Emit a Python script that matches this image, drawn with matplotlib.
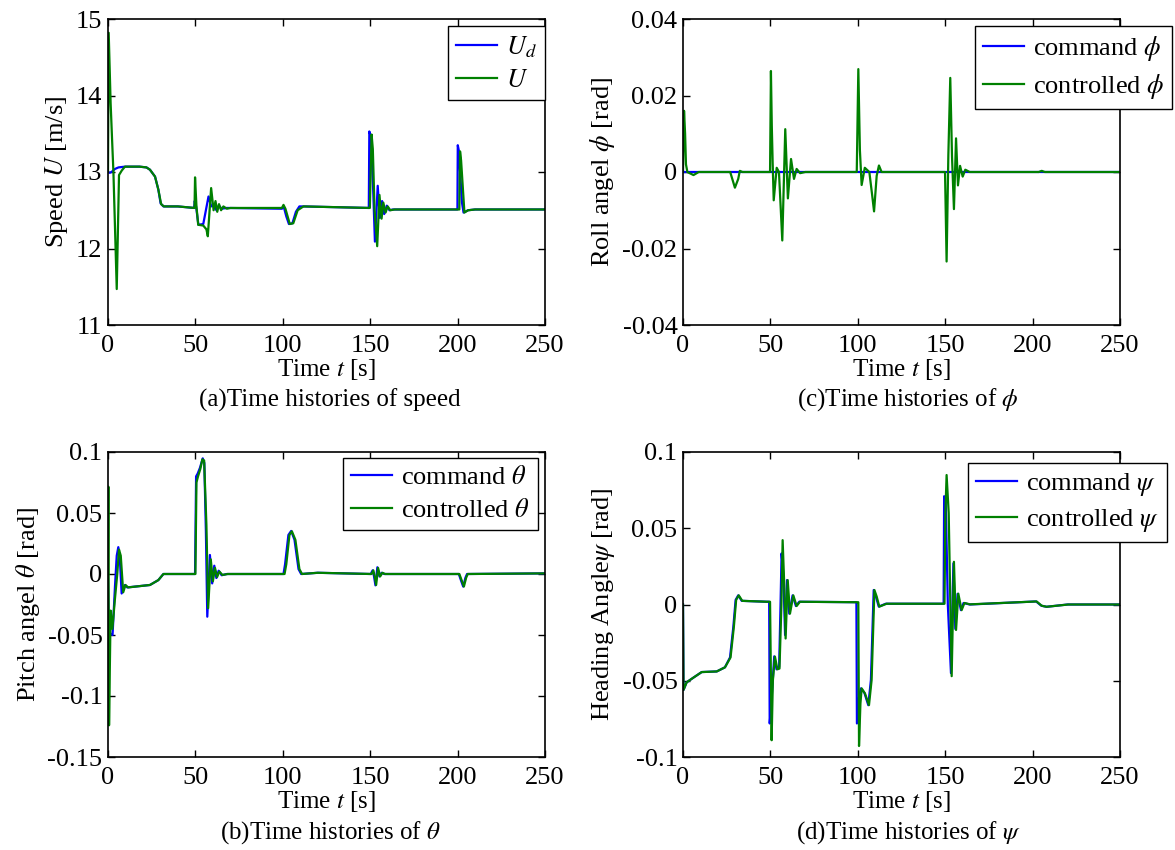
import matplotlib
matplotlib.use("Agg")
import matplotlib.pyplot as plt

# 字型設定 (Times 風格)
plt.rcParams["font.family"] = ["Liberation Serif", "DejaVu Serif"]
plt.rcParams["mathtext.fontset"] = "stix"
plt.rcParams["axes.unicode_minus"] = False
plt.rcParams["font.size"] = 19

# (a) 速度
t_ud = [0, 1, 2, 4, 6, 9.7, 18, 22, 24, 26.9, 28.8, 30.1, 31.7, 40, 49.3, 49.6, 50.4, 51.7, 54.5, 56,
        57.5, 59, 60.5, 62, 63.5, 65, 68, 99.5, 100.5, 102, 103.5, 105.5, 107.5, 109.5, 112, 149.2,
        149.5, 150.5, 151.5, 152.7, 154.3, 155.5, 156.8, 158, 159.5, 161, 163, 199.9, 200.1, 200.7,
        202.5, 203.4, 206, 210, 250]
u_d = [13.0, 12.99, 13.0, 13.04, 13.06, 13.07, 13.07, 13.06, 13.03, 12.94, 12.77, 12.59, 12.55, 12.55,
       12.53, 12.62, 12.55, 12.31, 12.32, 12.5, 12.68, 12.55, 12.58, 12.5, 12.56, 12.52, 12.53, 12.52,
       12.55, 12.42, 12.32, 12.33, 12.48, 12.55, 12.55, 12.53, 13.53, 13.45, 12.9, 12.09, 12.82, 12.4,
       12.62, 12.45, 12.56, 12.5, 12.51, 12.51, 13.35, 13.28, 12.6, 12.47, 12.5, 12.51, 12.51]
t_u = [0, 0.4, 1.5, 2.5, 3.1, 5, 6.3, 7.9, 9.7, 18, 22, 24, 26.9, 28.8, 30.4, 32, 40, 49.5, 49.8, 50.6,
       51.6, 54.5, 56.3, 57.1, 59, 60.4, 61.5, 62.5, 63.5, 64.7, 66, 68, 70, 99.5, 100.4, 101.5, 104,
       106, 108.5, 111.8, 149.8, 150.8, 151.5, 152.5, 154, 155.3, 156.5, 157.5, 158.8, 160, 161.5, 164,
       201, 201.4, 202, 203.9, 206, 210, 250]
u = [13.0, 14.82, 13.9, 13.33, 13.0, 11.47, 12.96, 13.02, 13.07, 13.07, 13.06, 13.03, 12.94, 12.77,
     12.58, 12.55, 12.55, 12.53, 12.93, 12.55, 12.31, 12.3, 12.25, 12.16, 12.79, 12.5, 12.62, 12.48,
     12.58, 12.5, 12.55, 12.52, 12.53, 12.53, 12.57, 12.52, 12.32, 12.33, 12.5, 12.55, 12.53, 13.49,
     13.3, 12.5, 12.03, 12.7, 12.39, 12.6, 12.47, 12.55, 12.5, 12.51, 12.51, 13.27, 13.15, 12.47, 12.5,
     12.51, 12.51]

# (c) 橫滾角
t_phi_cmd = [0, 250]
phi_cmd = [0, 0]
t_phi = [0, 0.6, 1.2, 1.7, 2.5, 6, 9, 27, 29.7, 31.6, 32.5, 34, 49.8, 50.3, 50.8, 51.3, 51.9, 53.6,
         54.9, 56.8, 58.5, 60, 61.8, 63.5, 65, 67, 70, 99.4, 100.3, 101.2, 102.2, 104, 106.6, 108.2,
         109.3, 110.8, 112.1, 113.6, 149.9, 150.8, 151.8, 152.9, 153.9, 155, 156.2, 157.3, 158.5, 160,
         161.5, 164, 203.5, 205.2, 207, 250]
phi = [0, 0.016, 0.010, 0.002, 0.0, -0.0008, 0, 0, -0.0041, -0.0018, 0.0003, 0, 0, 0.0264, 0.012,
       0.0023, -0.0074, 0.0011, 0, -0.0179, 0.0112, -0.0069, 0.0034, -0.0018, 0.0008, -0.0003, 0, 0,
       0.0269, 0.0057, -0.0034, 0.0011, 0, -0.006, -0.0103, -0.001, 0.0017, 0, 0, -0.0234, 0.0044,
       0.0246, 0.004, -0.0097, 0.0088, -0.0035, 0.0016, -0.0012, 0.0006, 0, 0, 0.0003, 0, 0]

# (b) 俯仰角
t_theta_cmd = [0, 0.5, 2.6, 4.0, 5.0, 5.9, 6.8, 7.8, 9.7, 11, 24, 28.8, 31.7, 33.5, 48.5, 49.8, 50.4,
               51.3, 52.6, 54.2, 55.1, 56.0, 56.8, 58.3, 59.6, 60.8, 62, 63.3, 65, 68, 100.4, 101.3,
               103.2, 104.8, 106.7, 109, 110.5, 120, 150.3, 151.4, 152.2, 153, 154.1, 155.3, 156.5, 158,
               200.7, 202, 203.2, 204.5, 205.4, 250]
theta_cmd = [0, -0.048, -0.05, -0.01, 0.015, 0.022, 0.012, -0.016, -0.009, -0.011, -0.009, -0.005, 0,
             0, 0, 0, 0.08, 0.0823, 0.087, 0.0948, 0.091, 0.035, -0.035, 0.0156, -0.0077, 0.0068,
             -0.0033, 0.0027, -0.001, 0, 0, 0.008, 0.032, 0.0353, 0.028, 0.004, 0, 0.001, 0, 0.003,
             -0.002, -0.0093, 0.0055, -0.002, 0.001, 0, 0, -0.0055, -0.0103, -0.003, 0, 0.0005]
t_theta = [0, 0.2, 0.6, 1.5, 2.5, 4.0, 5.3, 6.3, 7.3, 8.7, 10, 11.5, 24, 28.8, 31.7, 33.5, 48.5, 50.0,
           50.6, 51.5, 52.8, 54.0, 55.0, 56.3, 57.3, 58.8, 60.0, 61.2, 62.4, 63.7, 65.5, 68.5, 101,
           102, 103.8, 105.2, 107.2, 109.5, 111, 120, 150.8, 151.8, 152.6, 153.4, 154.5, 155.7, 157,
           158.5, 201, 202.4, 203.6, 204.9, 205.8, 250]
theta = [0, 0.0716, -0.124, -0.03, -0.045, -0.02, 0.0, 0.02, 0.015, -0.015, -0.009, -0.011, -0.009,
         -0.005, 0, 0, 0, 0, 0.075, 0.08, 0.086, 0.094, 0.093, 0.04, -0.028, 0.012, -0.006, 0.005,
         -0.0025, 0.002, -0.0008, 0, 0, 0.008, 0.032, 0.035, 0.028, 0.004, 0, 0.001, 0, 0.003, -0.002,
         -0.009, 0.005, -0.002, 0.001, 0, 0, -0.0055, -0.0103, -0.003, 0, 0.0005]

# (d) 航向角
t_psi_cmd = [0, 0.3, 2.1, 5.9, 10.7, 19.3, 24, 26.9, 28.8, 30.1, 31.6, 33.6, 47.9, 49.3, 49.6, 50.8,
             52.2, 53.5, 55, 55.8, 56.4, 57.4, 58.4, 59.5, 60.8, 62.7, 64.6, 66.5, 99.2, 99.5, 100.8,
             101.8, 103.8, 106, 107.5, 109.1, 110.4, 112, 116, 149.1, 149.4, 150.3, 151.5, 153.3, 154.7,
             155.8, 157.1, 159, 160.5, 164, 202, 205, 208, 220, 250]
psi_cmd = [0, -0.056, -0.051, -0.048, -0.0443, -0.0439, -0.0412, -0.0347, -0.0146, 0.003, 0.006,
           0.0024, 0.0018, 0.0018, -0.078, -0.06, -0.034, -0.0425, -0.041, 0.0, 0.0335, 0.02, -0.02,
           0.016, -0.006, 0.006, -0.001, 0.0018, 0.0015, -0.078, -0.06, -0.055, -0.058, -0.066,
           -0.0495, 0.0095, 0.005, -0.0014, 0.0005, 0.0005, 0.071, 0.068, 0.0, -0.045, 0.027, -0.016,
           0.007, -0.0037, 0.001, 0.0, 0.002, -0.0008, -0.0015, 0, 0]
t_psi = [0, 0.3, 2.1, 5.9, 10.7, 19.3, 24, 27.2, 29.1, 30.4, 31.9, 33.9, 48.2, 49.8, 50.7, 51.4, 52.6,
         54, 55.2, 56.3, 57, 58, 58.7, 59.9, 61.2, 63.1, 65, 66.9, 99.6, 100.3, 100.7, 101.5, 102.2,
         104.1, 106.4, 107.9, 109.5, 110.8, 112.3, 116.5, 149.6, 150.1, 150.8, 152, 153.7, 155, 156.2,
         157.5, 159.4, 161, 164.2, 202.3, 205.2, 208, 220.4, 250]
psi = [0, -0.056, -0.051, -0.048, -0.0443, -0.0439, -0.0412, -0.0347, -0.0146, 0.003, 0.006, 0.0024,
       0.0018, 0.0018, -0.089, -0.05, -0.0342, -0.0425, -0.042, 0.0, 0.0422, 0.01, -0.0223, 0.016,
       -0.006, 0.006, -0.001, 0.0018, 0.0015, 0.0015, -0.0928, -0.065, -0.055, -0.0583, -0.066,
       -0.0495, 0.0095, 0.0052, -0.0014, 0.0005, 0.0005, 0.06, 0.0849, 0.06, -0.047, 0.028, -0.0167,
       0.0071, -0.0037, 0.001, 0.0001, 0.002, -0.0008, -0.0015, 0, 0]

x_ticks = [0, 50, 100, 150, 200, 250]
x_tick_labels = ["0", "50", "100", "150", "200", "250"]

W, H = 1175, 850
fig = plt.figure(figsize=(W / 100, H / 100), dpi=100)


def make_axes(left, top, right, bottom):
    # 以像素位置建立座標軸
    return fig.add_axes([left / W, 1 - bottom / H, (right - left) / W, (bottom - top) / H])


def style_axes(ax, yticks, ylabels, ylim, ylabel):
    ax.set_xlim(0, 250)
    ax.set_ylim(*ylim)
    ax.set_xticks(x_ticks)
    ax.set_xticklabels(x_tick_labels)
    ax.set_yticks(yticks)
    ax.set_yticklabels(ylabels)
    ax.tick_params(direction="in", top=True, right=True, length=5, width=1)
    ax.tick_params(axis="x", pad=7)
    ax.tick_params(axis="y", pad=4)
    for s in ax.spines.values():
        s.set_linewidth(1.2)
    ax.set_xlabel("Time $t$ [s]", labelpad=0, fontsize=18)
    ax.set_ylabel(ylabel, labelpad=4)


def add_legend(ax, labels, x, y):
    leg = ax.legend(labels, loc="upper left", bbox_to_anchor=(x, y), fancybox=False, framealpha=1,
                    edgecolor="black", handlelength=1.55, handletextpad=0.35, borderpad=0.3,
                    labelspacing=0.35, borderaxespad=0, fontsize=19)
    leg.get_frame().set_linewidth(1.0)
    leg.set_clip_on(False)


blue = "#0000ff"
green = "#008000"
lw = 1.6

# (a)
ax1 = make_axes(108, 19, 545, 325)
ax1.plot(t_ud, u_d, color=blue, lw=lw)
ax1.plot(t_u, u, color=green, lw=lw)
style_axes(ax1, [11, 12, 13, 14, 15], ["11", "12", "13", "14", "15"], (11, 15), "Speed $U$ [m/s]")
add_legend(ax1, ["$U_d$", "$U$"], 0.778, 0.977)

# (c)
ax2 = make_axes(683, 19, 1120, 325)
ax2.plot(t_phi_cmd, phi_cmd, color=blue, lw=lw)
ax2.plot(t_phi, phi, color=green, lw=lw)
style_axes(ax2, [-0.04, -0.02, 0, 0.02, 0.04], ["-0.04", "-0.02", "0", "0.02", "0.04"], (-0.04, 0.04),
           r"Roll angel $\phi$ [rad]")
add_legend(ax2, [r"command $\phi$", r"controlled $\phi$"], 0.668, 0.977)

# (b)
ax3 = make_axes(108, 452, 545, 757)
ax3.plot(t_theta_cmd, theta_cmd, color=blue, lw=lw)
ax3.plot(t_theta, theta, color=green, lw=lw)
style_axes(ax3, [-0.15, -0.1, -0.05, 0, 0.05, 0.1], ["-0.15", "-0.1", "-0.05", "0", "0.05", "0.1"],
           (-0.15, 0.1), r"Pitch angel $\theta$ [rad]")
add_legend(ax3, [r"command $\theta$", r"controlled $\theta$"], 0.538, 0.98)

# (d)
ax4 = make_axes(683, 452, 1120, 757)
ax4.plot(t_psi_cmd, psi_cmd, color=blue, lw=lw)
ax4.plot(t_psi, psi, color=green, lw=lw)
style_axes(ax4, [-0.1, -0.05, 0, 0.05, 0.1], ["-0.1", "-0.05", "0", "0.05", "0.1"], (-0.1, 0.1),
           r"Heading Angle$\psi$ [rad]")
add_legend(ax4, [r"command $\psi$", r"controlled $\psi$"], 0.652, 0.964)

# 子圖標題
fig.text(330 / W, 1 - 400 / H, "(a)Time histories of speed", ha="center", va="center", fontsize=18)
fig.text(908 / W, 1 - 400 / H, r"(c)Time histories of $\phi$", ha="center", va="center", fontsize=18)
fig.text(330 / W, 1 - 833 / H, r"(b)Time histories of $\theta$", ha="center", va="center", fontsize=18)
fig.text(908 / W, 1 - 833 / H, r"(d)Time histories of $\psi$", ha="center", va="center", fontsize=18)

fig.savefig("out.png", dpi=100)
